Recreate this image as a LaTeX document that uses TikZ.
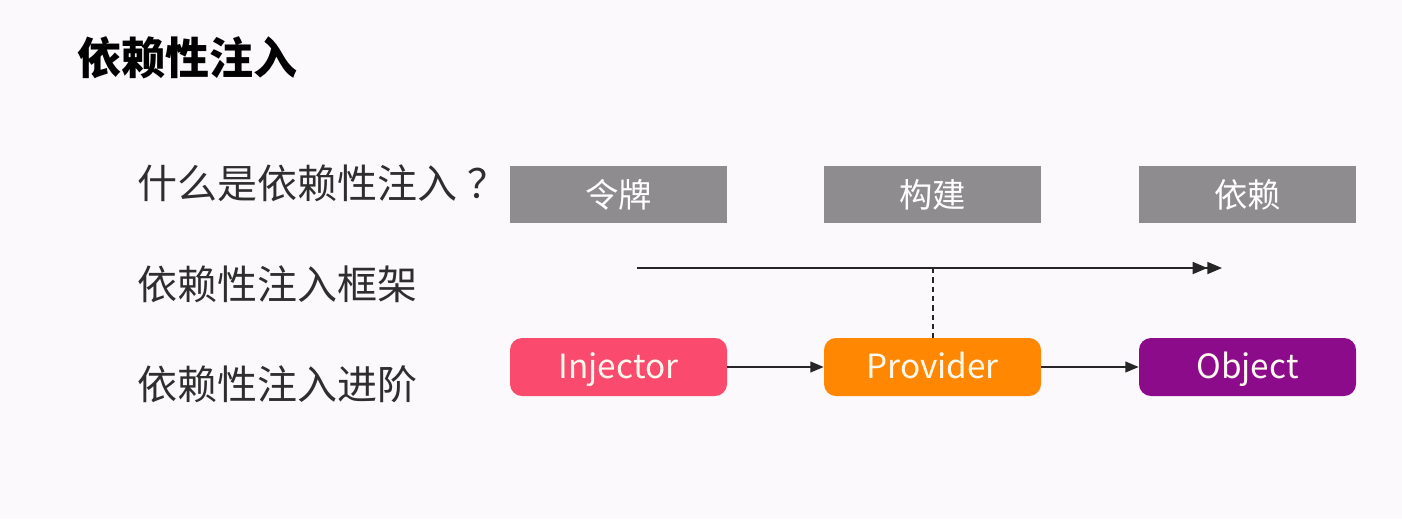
\documentclass[tikz,border=0pt]{standalone}
\usepackage{fontspec}
\setmainfont{Noto Sans CJK SC}
\newfontfamily\cjk{Noto Sans CJK SC}
\usetikzlibrary{arrows.meta}
\definecolor{bg}{HTML}{FCF9FC}
\definecolor{boxgray}{HTML}{8F8C8F}
\definecolor{injc}{HTML}{FA4A6E}
\definecolor{provc}{HTML}{FF8702}
\definecolor{objc}{HTML}{8B0B8B}
\definecolor{txtc}{HTML}{2E2E2E}
\definecolor{boxtxt}{HTML}{FFF8EC}
\tikzset{
  graybox/.style={fill=boxgray, minimum width=217*0.75pt, minimum height=57*0.75pt, inner sep=0pt,
    text=white, font=\cjk\fontsize{25pt}{27pt}\selectfont, text height=21pt, text depth=2pt},
  roundbox/.style={rounded corners=12*0.75pt, minimum width=217*0.75pt, minimum height=58*0.75pt, inner sep=0pt,
    text=boxtxt, font=\cjk\fontsize{25pt}{27pt}\selectfont, text height=19pt, text depth=2.5pt},
  bullet/.style={anchor=west, inner sep=0pt, text=txtc, font=\cjk\fontsize{30pt}{32pt}\selectfont},
  conn/.style={draw=black!85, line width=1.3pt, -{Triangle[length=10pt,width=8pt]}},
}
\begin{document}
\begin{tikzpicture}[x=0.75pt,y=-0.75pt]
\fill[bg] (0,0) rectangle (1402,519);
\useasboundingbox (0,0) rectangle (1402,519);
\node[anchor=west, inner sep=0pt, text=black, font=\cjk\bfseries\fontsize{33pt}{35pt}\selectfont] (title) at (77,58) {依赖性注入};
\node[bullet] (b1) at (137,183) {什么是依赖性注入\hspace{0.25em}？};
\node[bullet] (b2) at (137,284) {依赖性注入框架};
\node[bullet] (b3) at (137,384) {依赖性注入进阶};
\node[graybox] (g1) at (618.5,194.5) {令牌};
\node[graybox] (g2) at (932.5,194.5) {构建};
\node[graybox] (g3) at (1247.5,194.5) {依赖};
\node[roundbox, fill=injc] (inj) at (618.5,367) {Injector};
\node[roundbox, fill=provc] (prov) at (932.5,367) {Provider};
\node[roundbox, fill=objc] (obj) at (1247.5,367) {Object};
\coordinate (ls) at (637,268);
\coordinate (le) at (1222,268);
\coordinate (dj) at (933,268);
\draw[draw=black!85, line width=1.3pt, -{Triangle[length=11pt,width=9pt]Triangle[length=11pt,width=9pt]}] (ls) -- (le);
\draw[draw=black!85, line width=1.1pt, dash pattern=on 4pt off 3pt] (dj) -- (dj |- prov.north);
\draw[conn] (inj) -- (prov);
\draw[conn] (prov) -- (obj);
\end{tikzpicture}
\end{document}
